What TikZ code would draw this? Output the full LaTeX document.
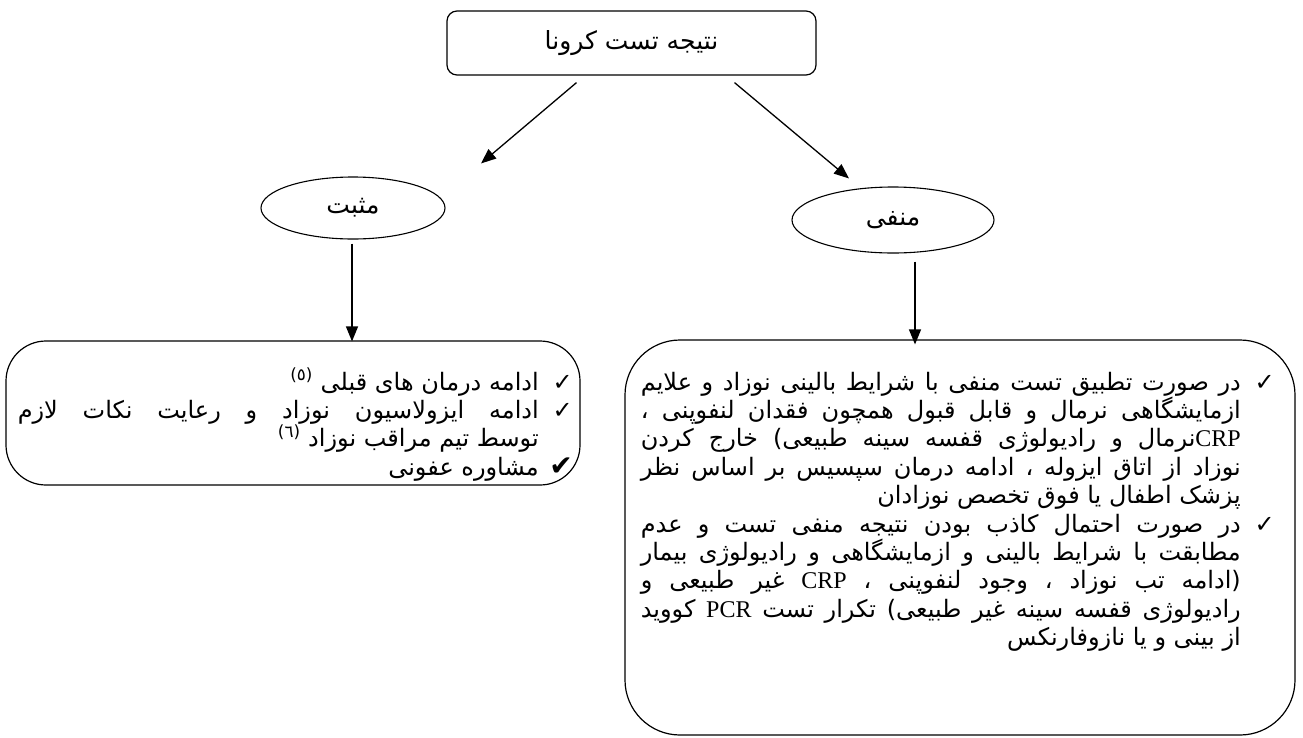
\documentclass[tikz,border=0pt]{standalone}
\usepackage{fontspec}
\usetikzlibrary{arrows.meta,shapes.geometric}
\TeXXeTstate=1
\newfontfamily\arfont[Script=Arabic]{DejaVu Sans}
\newfontfamily\latfont{Liberation Serif}
\newfontfamily\symfont{DejaVu Sans}
\newcommand\RL[1]{{\arfont\beginR #1\endR}}
\newcommand\lat[1]{\hbox{\latfont #1}}
\newdimen\lw
\newdimen\natw
\newcommand\jline[1]{\setbox0=\hbox{\arfont\beginR #1\endR}\natw=\wd0
  \ifdim\natw>\lw \pgfmathsetmacro\myfac{\lw/\natw}\hbox to \lw{\scalebox{\myfac}[1]{\box0}}%
  \else\hbox to \lw{\arfont\beginR #1\endR}\fi}
\newcommand\rline[1]{\setbox0=\hbox{\arfont\beginR #1\endR}\natw=\wd0
  \ifdim\natw>\lw \pgfmathsetmacro\myfac{\lw/\natw}\hbox to \lw{\scalebox{\myfac}[1]{\box0}}%
  \else\hbox to \lw{\hfill\box0}\fi}
\newcommand\chk[1]{\hbox to 34pt{\hfill\symfont\fontsize{24}{24}\selectfont #1}}
\newcommand\nochk{\hbox to 34pt{}}
\tikzset{
  box/.style={draw, line width=1.2pt},
  oval/.style={draw, ellipse, line width=1.1pt, inner sep=0pt},
  arr/.style={-{Triangle[length=15pt,width=12pt]}, line width=1.3pt},
  txt/.style={inner sep=0pt, font=\fontsize{24}{28.4}\selectfont},
  big/.style={font=\fontsize{25}{28}\selectfont}
}
\begin{document}
\begin{tikzpicture}[x=1pt,y=-1pt]
\useasboundingbox (0,0) rectangle (1303,737);
% top
\node[box, big, rounded corners=10pt, minimum width=369pt, minimum height=64pt] (top) at (631.5,43) {\RL{نتیجه تست کرونا}};
% ellipses
\node[oval, big, minimum width=184pt, minimum height=62pt] (pos) at (353,208) {\RL{مثبت}};
\node[oval, big, minimum width=202pt, minimum height=66pt] (neg) at (893,220) {\RL{منفی}};
% boxes
\node[box, rounded corners=40pt, minimum width=574pt, minimum height=144pt] (posbox) at (293,413) {};
\node[box, rounded corners=55pt, minimum width=670pt, minimum height=395pt] (negbox) at (960,537.5) {};
% arrows
\draw[arr] ([xshift=-55pt,yshift=-7pt]top.south) -- ([xshift=128pt,yshift=13pt]pos.north);
\draw[arr] ([xshift=103pt,yshift=-7pt]top.south) -- ([xshift=-44pt,yshift=8pt]neg.north);
\draw[arr, shorten >=3pt] ([xshift=-1pt,yshift=-4pt]pos.south) -- ([xshift=-1pt,yshift=-4pt]pos.south |- posbox.north);
\draw[arr, shorten >=3pt] ([xshift=22pt,yshift=-8pt]neg.south) -- ([xshift=22pt,yshift=-8pt]neg.south |- negbox.north);
% left text
\lw=521pt
\node[txt, anchor=base east] (postext) at (573,390) {\vtop{\baselineskip=28.4pt
 \hbox{\rline{ادامه درمان های قبلی \textsuperscript{(٥)}}\chk{✓}}
 \hbox{\jline{ادامه ایزولاسیون نوزاد و رعایت نکات لازم}\chk{✓}}
 \hbox{\rline{توسط تیم مراقب نوزاد \textsuperscript{(٦)}}\nochk}
 \hbox{\rline{مشاوره عفونی}\chk{\fontsize{28}{28}\selectfont ✔}}
}};
% right text
\lw=600pt
\node[txt, anchor=base east] (negtext) at (1275,390) {\vtop{\baselineskip=28.4pt
 \hbox{\jline{در صورت تطبیق تست منفی با شرایط بالینی نوزاد و علایم}\chk{✓}}
 \hbox{\jline{ازمایشگاهی نرمال و قابل قبول همچون فقدان لنفوپنی ،}\nochk}
 \hbox{\jline{\lat{CRP}نرمال و رادیولوژی قفسه سینه طبیعی) خارج کردن}\nochk}
 \hbox{\jline{نوزاد از اتاق ایزوله ، ادامه درمان سپسیس بر اساس نظر}\nochk}
 \hbox{\rline{پزشک اطفال یا فوق تخصص نوزادان}\nochk}
 \hbox{\jline{در صورت احتمال کاذب بودن نتیجه منفی تست و عدم}\chk{✓}}
 \hbox{\jline{مطابقت با شرایط بالینی و ازمایشگاهی و رادیولوژی بیمار}\nochk}
 \hbox{\jline{(ادامه تب نوزاد ، وجود لنفوپنی ، \lat{CRP} غیر طبیعی و}\nochk}
 \hbox{\jline{رادیولوژی قفسه سینه غیر طبیعی) تکرار تست \lat{PCR} کووید}\nochk}
 \hbox{\rline{از بینی و یا نازوفارنکس}\nochk}
}};
\end{tikzpicture}
\end{document}
